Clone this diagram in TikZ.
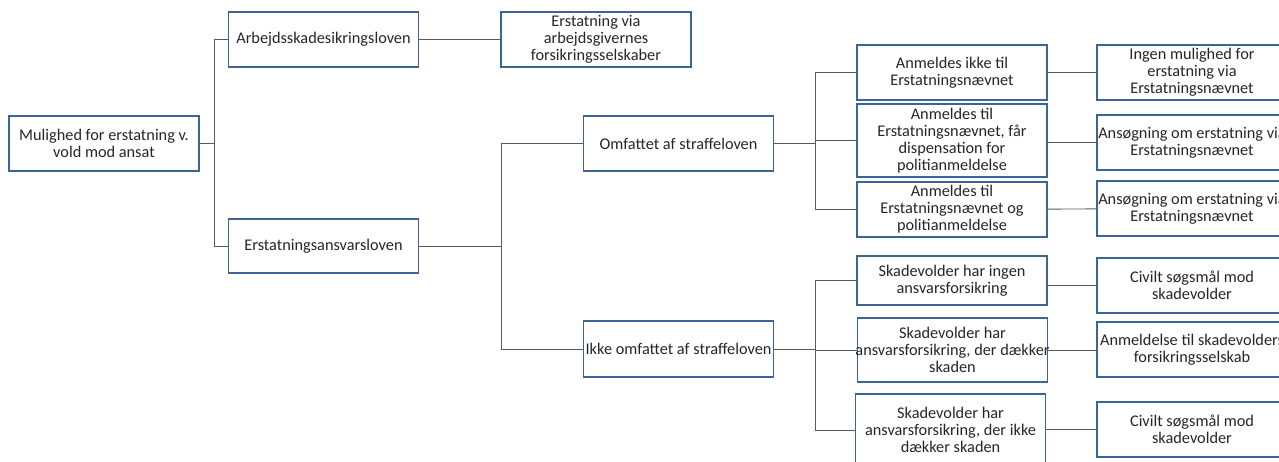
\documentclass[tikz,border=0pt]{standalone}
\usepackage{fontspec}
\setmainfont{Carlito}
\usepackage{xcolor}
\usepackage{tikz}
\usetikzlibrary{positioning, calc}

\definecolor{boxblue}{HTML}{3A6596}
\definecolor{linegray}{HTML}{5A5A5A}

\begin{document}
\begin{tikzpicture}[x=1pt, y=-1pt,
    box/.style={rectangle, draw=boxblue, line width=1.4pt, fill=white, align=center, inner xsep=-20pt, inner ysep=1pt, minimum width=190pt, minimum height=55pt, font=\fontsize{16.3}{17}\selectfont, text=black!85},
    link/.style={draw=linegray, line width=0.9pt}]
    \useasboundingbox (0,0) rectangle (1279,461);
    \clip (0,0) rectangle (1279,461);

    % Nodes
    \node (root) [box] at (104,143.5) {Mulighed for erstatning v.\\vold mod ansat};

    \node (arb) [box] at (323.5,39.5) {Arbejdsskadesikringsloven};
    \node (erst) [box, minimum height=54pt] at (323.5,246) {Erstatningsansvarsloven};

    \node (arbout) [box] at (596,39.5) {Erstatning via\\arbejdsgivernes\\forsikringsselskaber};

    \node (omf) [box] at (678.5,143.5) {Omfattet af straffeloven};
    \node (ikke) [box, minimum height=56pt] at (678.5,349) {Ikke omfattet af straffeloven};

    \node (anm1) [box] at (952,72.5) {Anmeldes ikke til\\Erstatningsnævnet};
    \node (anm2) [box, minimum height=73pt] at (952,140.5) {Anmeldes til\\Erstatningsnævnet, får\\dispensation for\\politianmeldelse};
    \node (anm3) [box] at (952,209.5) {Anmeldes til\\Erstatningsnævnet og\\politianmeldelse};

    \node (res1) [box] at (1192,72.5) {Ingen mulighed for\\erstatning via\\Erstatningsnævnet};
    \node (res2) [box] at (1192,142.5) {Ansøgning om erstatning via\\Erstatningsnævnet};
    \node (res3) [box] at (1192,208.5) {Ansøgning om erstatning via\\Erstatningsnævnet};

    \node (skv1) [box, minimum height=49pt] at (952,280.5) {Skadevolder har ingen\\ansvarsforsikring};
    \node (skv2) [box, minimum height=64pt] at (952.5,350) {Skadevolder har\\ansvarsforsikring, der dækker\\skaden};
    \node (skv3) [box, minimum height=72pt] at (950.5,430) {Skadevolder har\\ansvarsforsikring, der ikke\\dækker skaden};

    \node (civ1) [box] at (1192,285.5) {Civilt søgsmål mod\\skadevolder};
    \node (anmf) [box] at (1192,349.5) {Anmeldelse til skadevolders\\forsikringsselskab};
    \node (civ2) [box] at (1192,429.5) {Civilt søgsmål mod\\skadevolder};

    % Branch points
    \coordinate (t1) at (214,143.5);
    \coordinate (t2) at (501.5,246);
    \coordinate (t3) at (815,143.5);
    \coordinate (t4) at (815,349);

    % Edges
    \draw[link] (root) -- (t1);
    \draw[link] (t1) |- (arb);
    \draw[link] (t1) |- (erst);
    \draw[link] (arb) -- (arbout);

    \draw[link] (erst) -- (t2);
    \draw[link] (t2) |- (omf);
    \draw[link] (t2) |- (ikke);

    \draw[link] (omf) -- (t3);
    \draw[link] (t3) |- (anm1);
    \draw[link] (t3) |- (anm2);
    \draw[link] (t3) |- (anm3);

    \draw[link] (ikke) -- (t4);
    \draw[link] (t4) |- (skv1);
    \draw[link] (t4) |- (skv2);
    \draw[link] (t4) |- (skv3);

    \draw[link] (anm1) -- (res1);
    \draw[link] (anm2.east |- res2) -- (res2);
    \draw[link] (anm3) -- (res3);
    \draw[link] (skv1.east |- civ1) -- (civ1);
    \draw[link] (skv2) -- (skv2 -| anmf.west);
    \draw[link] (skv3.east |- civ2) -- (civ2);
\end{tikzpicture}
\end{document}
